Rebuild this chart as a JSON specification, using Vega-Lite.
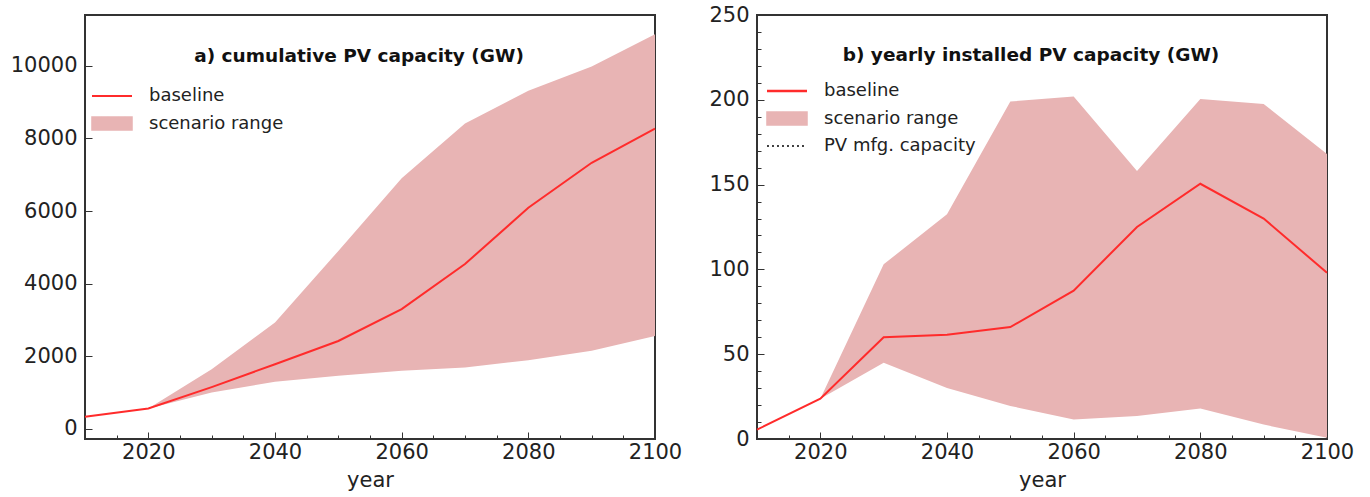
{
  "$schema": "https://vega.github.io/schema/vega-lite/v6.json",
  "padding": {"left": 9, "top": 3, "right": 5, "bottom": 5},
  "spacing": 24,
  "config": {
    "font": "DejaVu Sans",
    "view": {"stroke": "#333333", "strokeWidth": 2},
    "axis": {"grid": false, "domain": false, "labelFont": "DejaVu Sans", "labelFontSize": 21, "labelColor": "#222222", "tickColor": "#333333", "tickWidth": 1, "titleFont": "DejaVu Sans", "titleFontSize": 21, "titleFontWeight": "normal", "titleColor": "#222222", "labelFlush": false, "labelOverlap": false},
    "legend": {"orient": "none", "labelFont": "DejaVu Sans", "labelFontSize": 18, "labelColor": "#222222", "symbolSize": 196, "labelOffset": 28, "rowPadding": 8.5, "padding": 0},
    "title": {"font": "DejaVu Sans", "fontSize": 18.5, "fontWeight": "bold", "color": "#111111"}
  },
  "resolve": {"scale": {"color": "independent", "x": "independent", "y": "independent"}, "legend": {"color": "independent"}},
  "hconcat": [
    {
      "width": 570,
      "height": 424,
      "title": {"text": "a) cumulative PV capacity (GW)", "offset": -50, "dx": -11},
      "data": {"values": [
        {"year": 2010, "baseline": 330, "low": null, "high": null},
        {"year": 2020, "baseline": 560, "low": 560, "high": 560},
        {"year": 2030, "baseline": 1150, "low": 1000, "high": 1640},
        {"year": 2040, "baseline": 1780, "low": 1300, "high": 2930},
        {"year": 2050, "baseline": 2420, "low": 1460, "high": 4900},
        {"year": 2060, "baseline": 3300, "low": 1600, "high": 6900},
        {"year": 2070, "baseline": 4540, "low": 1690, "high": 8410},
        {"year": 2080, "baseline": 6090, "low": 1890, "high": 9310},
        {"year": 2090, "baseline": 7330, "low": 2150, "high": 9980},
        {"year": 2100, "baseline": 8270, "low": 2560, "high": 10870}
      ]},
      "encoding": {
        "x": {"field": "year", "type": "quantitative", "scale": {"domain": [2010, 2100], "nice": false, "zero": false},
          "axis": {"values": [2010,2015,2020,2025,2030,2035,2040,2045,2050,2055,2060,2065,2070,2075,2080,2085,2090,2095,2100], "format": "d", "labelExpr": "datum.value % 20 === 0 ? datum.label : ''", "tickSize": {"expr": "datum.value % 20 === 0 ? -7 : -4"}, "labelPadding": 9, "title": "year", "titlePadding": 4}}
      },
      "layer": [
        {
          "transform": [{"filter": "datum.high != null"}],
          "mark": {"type": "area", "opacity": 1},
          "encoding": {
            "y": {"field": "low", "type": "quantitative", "scale": {"domain": [-280, 11400], "nice": false, "zero": false},
              "axis": {"title": null, "values": [0,500,1000,1500,2000,2500,3000,3500,4000,4500,5000,5500,6000,6500,7000,7500,8000,8500,9000,9500,10000,10500,11000], "format": "d", "labelExpr": "datum.value % 2000 === 0 ? datum.label : ''", "tickSize": {"expr": "datum.value % 2000 === 0 ? -7 : -4"}, "labelPadding": 15}},
            "y2": {"field": "high"},
            "color": {"datum": "scenario range", "scale": {"domain": ["baseline", "scenario range"], "range": ["#ff2b2b", "#e8b4b4"]},
              "legend": {"title": null, "legendX": 18, "legendY": 72,
                "encoding": {"symbols": {
                  "shape": {"value": {"expr": "datum.value === 'scenario range' ? 'M-2.86,-0.93H2.86V0.93H-2.86Z' : 'M-2.86,0H2.86'"}},
                  "fill": {"value": {"expr": "datum.value === 'scenario range' ? '#e8b4b4' : 'transparent'"}},
                  "stroke": {"value": {"expr": "datum.value === 'baseline' ? '#ff2b2b' : (datum.value === 'scenario range' ? 'transparent' : '#000000')"}},
                  "strokeWidth": {"value": {"expr": "datum.value === 'baseline' ? 2 : 1.5"}},
                  "strokeDash": {"value": {"expr": "datum.value === 'PV mfg. capacity' ? [2, 3] : [1, 0]"}},
                  "opacity": {"value": 1}
                }}}}
          }
        },
        {
          "mark": {"type": "line", "strokeWidth": 2},
          "encoding": {
            "y": {"field": "baseline", "type": "quantitative"},
            "color": {"datum": "baseline", "scale": {"domain": ["baseline", "scenario range"], "range": ["#ff2b2b", "#e8b4b4"]},
              "legend": {"title": null, "legendX": 18, "legendY": 72,
                "encoding": {"symbols": {
                  "shape": {"value": {"expr": "datum.value === 'scenario range' ? 'M-2.86,-0.93H2.86V0.93H-2.86Z' : 'M-2.86,0H2.86'"}},
                  "fill": {"value": {"expr": "datum.value === 'scenario range' ? '#e8b4b4' : 'transparent'"}},
                  "stroke": {"value": {"expr": "datum.value === 'baseline' ? '#ff2b2b' : (datum.value === 'scenario range' ? 'transparent' : '#000000')"}},
                  "strokeWidth": {"value": {"expr": "datum.value === 'baseline' ? 2 : 1.5"}},
                  "strokeDash": {"value": {"expr": "datum.value === 'PV mfg. capacity' ? [2, 3] : [1, 0]"}},
                  "opacity": {"value": 1}
                }}}}
          }
        }
      ]
    },
    {
      "width": 570,
      "height": 424,
      "title": {"text": "b) yearly installed PV capacity (GW)", "offset": -60, "dx": -11},
      "data": {"values": [
        {"year": 2010, "baseline": 5.5, "low": null, "high": null},
        {"year": 2020, "baseline": 23.8, "low": 23.8, "high": 23.8},
        {"year": 2030, "baseline": 60, "low": 45, "high": 103},
        {"year": 2040, "baseline": 61.5, "low": 30, "high": 132.5},
        {"year": 2050, "baseline": 66, "low": 19.5, "high": 199},
        {"year": 2060, "baseline": 87.5, "low": 11.5, "high": 202},
        {"year": 2070, "baseline": 125, "low": 13.5, "high": 158},
        {"year": 2080, "baseline": 150.5, "low": 18, "high": 200.5},
        {"year": 2090, "baseline": 130, "low": 8.5, "high": 197.5},
        {"year": 2100, "baseline": 98, "low": 0.8, "high": 168}
      ]},
      "encoding": {
        "x": {"field": "year", "type": "quantitative", "scale": {"domain": [2010, 2100], "nice": false, "zero": false},
          "axis": {"values": [2010,2015,2020,2025,2030,2035,2040,2045,2050,2055,2060,2065,2070,2075,2080,2085,2090,2095,2100], "format": "d", "labelExpr": "datum.value % 20 === 0 ? datum.label : ''", "tickSize": {"expr": "datum.value % 20 === 0 ? -7 : -4"}, "labelPadding": 9, "title": "year", "titlePadding": 4}}
      },
      "layer": [
        {
          "transform": [{"filter": "datum.high != null"}],
          "mark": {"type": "area", "opacity": 1},
          "encoding": {
            "y": {"field": "low", "type": "quantitative", "scale": {"domain": [0, 250], "nice": false, "zero": false},
              "axis": {"title": null, "values": [0,10,20,30,40,50,60,70,80,90,100,110,120,130,140,150,160,170,180,190,200,210,220,230,240,250], "format": "d", "labelExpr": "datum.value % 50 === 0 ? datum.label : ''", "tickSize": {"expr": "datum.value % 50 === 0 ? -7 : -4"}, "labelPadding": 15}},
            "y2": {"field": "high"},
            "color": {"datum": "scenario range", "scale": {"domain": ["baseline", "scenario range", "PV mfg. capacity"], "range": ["#ff2b2b", "#e8b4b4", "#000000"]},
              "legend": {"title": null, "legendX": 21, "legendY": 67,
                "encoding": {"symbols": {
                  "shape": {"value": {"expr": "datum.value === 'scenario range' ? 'M-2.86,-0.93H2.86V0.93H-2.86Z' : 'M-2.86,0H2.86'"}},
                  "fill": {"value": {"expr": "datum.value === 'scenario range' ? '#e8b4b4' : 'transparent'"}},
                  "stroke": {"value": {"expr": "datum.value === 'baseline' ? '#ff2b2b' : (datum.value === 'scenario range' ? 'transparent' : '#000000')"}},
                  "strokeWidth": {"value": {"expr": "datum.value === 'baseline' ? 2.5 : 1.5"}},
                  "strokeDash": {"value": {"expr": "datum.value === 'PV mfg. capacity' ? [2, 3] : [1, 0]"}},
                  "opacity": {"value": 1}
                }}}}
          }
        },
        {
          "mark": {"type": "line", "strokeWidth": 2},
          "encoding": {
            "y": {"field": "baseline", "type": "quantitative",
              "axis": {"title": null, "values": [0,10,20,30,40,50,60,70,80,90,100,110,120,130,140,150,160,170,180,190,200,210,220,230,240,250], "format": "d", "labelExpr": "datum.value % 50 === 0 ? datum.label : ''", "tickSize": {"expr": "datum.value % 50 === 0 ? -7 : -4"}, "labelPadding": 15}},
            "color": {"datum": "baseline", "scale": {"domain": ["baseline", "scenario range", "PV mfg. capacity"], "range": ["#ff2b2b", "#e8b4b4", "#000000"]},
              "legend": {"title": null, "legendX": 21, "legendY": 67,
                "encoding": {"symbols": {
                  "shape": {"value": {"expr": "datum.value === 'scenario range' ? 'M-2.86,-0.93H2.86V0.93H-2.86Z' : 'M-2.86,0H2.86'"}},
                  "fill": {"value": {"expr": "datum.value === 'scenario range' ? '#e8b4b4' : 'transparent'"}},
                  "stroke": {"value": {"expr": "datum.value === 'baseline' ? '#ff2b2b' : (datum.value === 'scenario range' ? 'transparent' : '#000000')"}},
                  "strokeWidth": {"value": {"expr": "datum.value === 'baseline' ? 2.5 : 1.5"}},
                  "strokeDash": {"value": {"expr": "datum.value === 'PV mfg. capacity' ? [2, 3] : [1, 0]"}},
                  "opacity": {"value": 1}
                }}}}
          }
        },
        {
          "data": {"values": [{"capacity": 100}]},
          "mark": {"type": "rule", "strokeWidth": 1.5, "strokeDash": [2, 3]},
          "encoding": {
            "y": {"field": "capacity", "type": "quantitative",
              "axis": {"title": null, "values": [0,10,20,30,40,50,60,70,80,90,100,110,120,130,140,150,160,170,180,190,200,210,220,230,240,250], "format": "d", "labelExpr": "datum.value % 50 === 0 ? datum.label : ''", "tickSize": {"expr": "datum.value % 50 === 0 ? -7 : -4"}, "labelPadding": 15}},
            "color": {"datum": "PV mfg. capacity", "scale": {"domain": ["baseline", "scenario range", "PV mfg. capacity"], "range": ["#ff2b2b", "#e8b4b4", "#000000"]},
              "legend": {"title": null, "legendX": 21, "legendY": 67,
                "encoding": {"symbols": {
                  "shape": {"value": {"expr": "datum.value === 'scenario range' ? 'M-2.86,-0.93H2.86V0.93H-2.86Z' : 'M-2.86,0H2.86'"}},
                  "fill": {"value": {"expr": "datum.value === 'scenario range' ? '#e8b4b4' : 'transparent'"}},
                  "stroke": {"value": {"expr": "datum.value === 'baseline' ? '#ff2b2b' : (datum.value === 'scenario range' ? 'transparent' : '#000000')"}},
                  "strokeWidth": {"value": {"expr": "datum.value === 'baseline' ? 2.5 : 1.5"}},
                  "strokeDash": {"value": {"expr": "datum.value === 'PV mfg. capacity' ? [2, 3] : [1, 0]"}},
                  "opacity": {"value": 1}
                }}}}
          }
        }
      ]
    }
  ]
}
